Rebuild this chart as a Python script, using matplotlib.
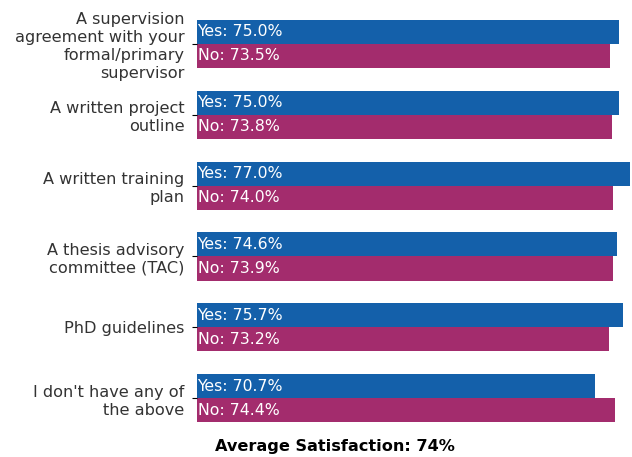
import matplotlib.pyplot as plt
import numpy as np

categories = [
    "A supervision\nagreement with your\nformal/primary\nsupervisor",
    "A written project\noutline",
    "A written training\nplan",
    "A thesis advisory\ncommittee (TAC)",
    "PhD guidelines",
    "I don't have any of\nthe above",
]
yes_values = [75.0, 75.0, 77.0, 74.6, 75.7, 70.7]
no_values = [73.5, 73.8, 74.0, 73.9, 73.2, 74.4]
average = 74

yes_color = "#1460aa"
no_color = "#a32c6d"

fig = plt.figure(figsize=(6.32, 4.57), dpi=100)
ax = fig.add_axes([197 / 632, 1 - 442 / 457, 433 / 632, 442 / 457])

y = np.arange(len(categories))
h = 0.34
ax.barh(y - h / 2, yes_values, height=h, color=yes_color)
ax.barh(y + h / 2, no_values, height=h, color=no_color)

for i in range(len(categories)):
    ax.text(0.1, y[i] - h / 2, f"Yes: {yes_values[i]:.1f}%", color="white",
            va="center", ha="left", fontsize=11.3)
    ax.text(0.1, y[i] + h / 2, f"No: {no_values[i]:.1f}%", color="white",
            va="center", ha="left", fontsize=11.3)

ax.set_yticks(y)
ax.set_yticklabels(categories, fontsize=11.6, color="#333333", linespacing=1.25)
ax.tick_params(axis="y", pad=5.4)
ax.set_xlim(0, max(yes_values))
ax.set_ylim(len(categories) - 1 + 0.62, -0.62)
ax.xaxis.set_visible(False)
for s in ax.spines.values():
    s.set_visible(False)

fig.text(335 / 632, 1 - 446 / 457, f"Average Satisfaction: {average}%",
         fontsize=11.6, fontweight="bold", ha="center", va="center")

fig.savefig("out.png", dpi=100)
